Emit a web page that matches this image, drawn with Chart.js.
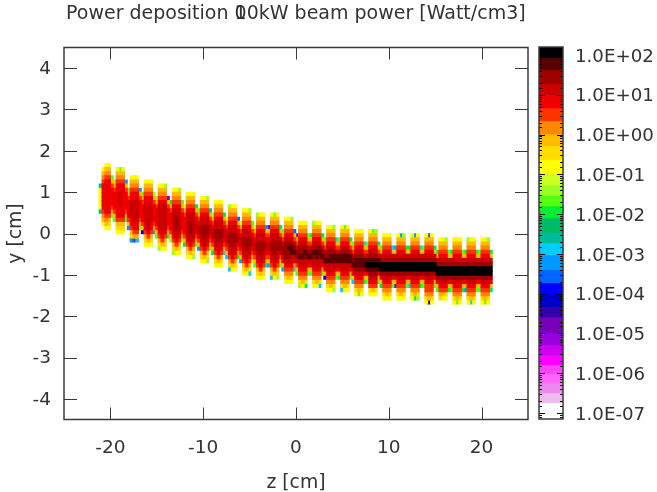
<!DOCTYPE html>
<html>
<head>
<meta charset="utf-8">
<script src="https://cdn.jsdelivr.net/npm/chart.js@4"></script>
<style>
    body { margin: 0; background: #fff; }
    canvas { position: absolute; left: 0; top: 0; filter: blur(0.35px); }
    #title { position: absolute; left: 66px; top: 1px; font: 19px "DejaVu Sans"; color: #333; white-space: pre; filter: blur(0.3px); }
    #title span { margin-right: -0.636em; }
</style>
</head>
<body>
<div style="position:relative;width:657px;height:492px">
    <canvas id="power-map" width="657" height="492"></canvas>
    <canvas id="power-bar" width="657" height="492"></canvas>
    <div id="title">Power deposition <span>1</span>00kW beam power [Watt/cm3]</div>
</div>
<script>
const zTicks = [-20, -10, 0, 10, 20];
const yTicks = [-4, -3, -2, -1, 0, 1, 2, 3, 4];
const barLabels = ['1.0E-07', '1.0E-06', '1.0E-05', '1.0E-04', '1.0E-03', '1.0E-02', '1.0E-01', '1.0E+00', '1.0E+01', '1.0E+02'];

// colour bands, top of the bar first; one letter per band in columnLevels
const levelCodes = 'abcdefghijklmnopqrstuvwxyzABCDE';
const bandColours = ['#000000', '#5a0000', '#a00000', '#cc0000', '#ee0000', '#ff3300', '#ff8800', '#ffbb00',
    '#ffdd00', '#ffff00', '#ccff22', '#99ff22', '#55ff11', '#00ee33', '#00bb66', '#00bb99',
    '#00ccff', '#0099ff', '#0066ff', '#0000ff', '#0000cc', '#3300aa', '#7700bb', '#9900dd',
    '#cc00ee', '#ff00ff', '#ff44ff', '#ff66ff', '#ee88ee', '#eebbee', '#ffffff'];
const bandEdges = [158, 84, 42, 18.7, 9.9, 4.66, 2.2, 1.03, 0.52, 0.23, 0.102, 0.054, 0.029, 0.016, 0.008, 0.0034,
    0.0019, 9.4e-4, 4.0e-4, 1.87e-4, 9.9e-5, 4.7e-5, 2.6e-5, 1.03e-5, 5.2e-6, 2.9e-6, 1.63e-6, 1.02e-6,
    5.7e-7, 3.2e-7, 1.8e-7, 7.1e-8];

// the beam shows 28 lobes, each 5 cells wide
const cellWidth = 0.3025;
const cellHeight = 0.1;
const lobeCentres = [-20.45, -18.93, -17.42, -15.91, -14.40, -12.88, -11.37, -9.86, -8.35, -6.83,
    -5.32, -3.81, -2.30, -0.78, 0.73, 2.24, 3.75, 5.27, 6.78, 8.29,
    9.80, 11.32, 12.83, 14.34, 15.85, 17.37, 18.88, 20.39];

// top edge (y in cm) of each cell column, 5 per lobe
const columnTops = [
    1.2, 1.6, 1.7, 1.7, 1.4,
    1.3, 1.6, 1.6, 1.6, 1.3,
    1.1, 1.4, 1.4, 1.4, 1.1,
    1.0, 1.3, 1.3, 1.3, 1.0,
    0.9, 1.2, 1.2, 1.2, 0.9,
    0.8, 1.1, 1.1, 1.1, 0.8,
    0.7, 1.0, 1.0, 1.0, 0.7,
    0.6, 0.9, 0.9, 0.9, 0.6,
    0.5, 0.8, 0.8, 0.8, 0.5,
    0.4, 0.7, 0.7, 0.7, 0.4,
    0.3, 0.6, 0.6, 0.6, 0.3,
    0.2, 0.5, 0.5, 0.5, 0.2,
    0.2, 0.5, 0.5, 0.5, 0.2,
    0.1, 0.4, 0.4, 0.4, 0.1,
    0.0, 0.3, 0.3, 0.3, 0.0,
    0.0, 0.3, 0.3, 0.3, 0.0,
    -0.1, 0.2, 0.2, 0.2, -0.1,
    -0.1, 0.2, 0.2, 0.2, -0.1,
    -0.2, 0.1, 0.1, 0.1, -0.2,
    -0.2, 0.1, 0.1, 0.1, -0.2,
    -0.3, 0.0, 0.0, 0.0, -0.3,
    -0.3, 0.0, 0.0, 0.0, -0.3,
    -0.3, 0.0, 0.0, 0.0, -0.3,
    -0.3, 0.0, 0.0, 0.0, -0.3,
    -0.4, -0.1, -0.1, -0.1, -0.4,
    -0.4, -0.1, -0.1, -0.1, -0.4,
    -0.4, -0.1, -0.1, -0.1, -0.4,
    -0.4, -0.1, -0.1, -0.1, -0.4,
];

// band letter of each cell, read downward from columnTops
const columnLevels = [
    'pjjjjjp', 'jhgfeeeeeefghj', 'jhgfeeeeeeeefghj', 'jhgfeeeeeeeefhij', 'mhfeeeefhm',
    'lhfeeeefhm', 'jhgfeeeeeeeefhij', 'mhgfeedddeeefhij', 'jhgfeeeeeeeefhij', 'rhfeeeefhm',
    'mhfeeeefhr', 'jhgfeeddddeefhir', 'jhgfeedddddeefhx', 'jhgfeedddddeefhq', 'rhfeeeefhm',
    'mhfeeeefhu', 'jhgfeeddddeefhij', 'jhgfeeddddddefhj', 'jhgfeeddddeefhij', 'lhfeeeefhr',
    'lhfeeeefhm', 'jhgfeddddddefhil', 'jhgfedddddddefhj', 'lhgfeddddddefhij', 'whfeeeefhn',
    'nhfeeeefhl', 'jhgfeddddddefhil', 'jhgfeddcccddefhj', 'lhgfeddddddefhij', 'mhfeeeefhk',
    'khfeeeefhn', 'jhgfeddddddefhij', 'jhgfeddcccddefhj', 'jhgfeddddddefhil', 'nhfeddefhm',
    'mhfeddefhr', 'jhgfeddccddefhij', 'jhgfeddcccddefhj', 'lhgfeddccddefhil', 'phfeddefhm',
    'lhfeddefhn', 'jhgfeddccddefhij', 'jhgfeddcccddefhj', 'jhgfeddccddefhij', 'nhfeddefhq',
    'jhfeddefhq', 'lhgfeddccddefhiq', 'jhgfeddcccddefhj', 'jhgfeddccddefhij', 'shfeddefhn',
    'khfeddefhr', 'jhgfeddccddefhij', 'jhgfeddcccddefhj', 'lhgfeddccddefhiq', 'mhfeddefhk',
    'khfeddefhm', 'lhgfeddccddefhij', 'jhgfeddcccddefhj', 'jhgfeddccddefhij', 'rhfeddefhq',
    'whfeddefhp', 'jhgfeddccddefhiq', 'mhgfeddcccddefhj', 'jhgfeddccddefhil', 'nhfdccdfhm',
    'mhfdccdehr', 'jhgfedccccdefgij', 'jhgfedcbccdefghj', 'lhgfedcbbddefgij', 'shfdcbdehq',
    'whfdccdfhm', 'jhgfedccbddefgil', 'jhgfedccbddefghj', 'jhgfedcbcddefgin', 'mhfdcbdehm',
    'nhfdcbdehm', 'lhgfedcbcddefgij', 'jhgfedcbbddefghj', 'jhgfedcbcddefgiq', 'nhfdcbdehm',
    'mhfdcbdehu', 'jhgfedccbddefgij', 'jhgfedcbbddefghj', 'lhgfedcbbddefgil', 'qhfdbbdehm',
    'mhfdbbdehn', 'jhgfedcbbddefgiq', 'mhgfedcbbddefghj', 'jhgfedcbbddefgij', 'nhfdbbdehm',
    'mhfdcbdehq', 'jhgfedcbbcdefgij', 'jhgfedcbbcdefghm', 'jhgfedcbbcdefgij', 'qhfdbbcehn',
    'mhfdbabehm', 'jhgfedcbabcdefij', 'mhgfedcbabcdefhj', 'lhgfedcbabcdefij', 'nhfdbabehm',
    'mhdcaacehn', 'jhgfedcaacdefgij', 'jhgfedcaacdefghj', 'jhgfedcaacdefgij', 'qhdcaacehm',
    'rhdcaacehw', 'jhgfedcaacdefgij', 'rhgfedcaacdefghj', 'lhgfedcaacdefgij', 'nhdcaacehm',
    'nhdcaacehq', 'jhgfedcaacdefgij', 'rhgfedcaacdefghn', 'jhgfedcaacdefgil', 'qhdcaacehn',
    'mhdcaacehm', 'jhgfedcaacdeffgij', 'shgfedcaacdeffghv', 'jhgfedcaacdeffgij', 'nhdcaacehm',
    'nhdcaacehm', 'jhgfedcaacdefhi', 'jhgfedcaacdefhj', 'lhgfedcaacdefij', 'mhdcaacehn',
    'nhdcaacehm', 'jhgfedcaacdefgij', 'jhgfedcaacdefghm', 'jhgfedcaacdefgij', 'mhdcaacehn',
    'nhdcaacehr', 'lhgfedcaacdefgij', 'jhgfedcaacdefghq', 'jhgfedcaacdefgij', 'nhdcaacehm',
    'mhdcaacehm', 'jhgfedcaacdefgij', 'jhgfedcaacdefghm', 'lhgfedcaacdefgij', 'nhdcaacehn',
];

const frameColour = '#3a3a3a';
const textColour = '#333';
const fontFamily = '"DejaVu Sans"';

// one dataset per colour band, one floating bar per cell
function buildCellDatasets() {
    const cells = levelCodes.split('').map(() => []);
    columnLevels.forEach((levels, c) => {
        const z = lobeCentres[Math.floor(c / 5)] + (c % 5 - 2) * cellWidth;
        levels.split('').forEach((code, r) => {
            const top = columnTops[c] - r * cellHeight;
            cells[levelCodes.indexOf(code)].push({ x: z, y: [top - cellHeight - 0.012, top] });
        });
    });
    return cells.map((data, i) => ({
        data: data,
        backgroundColor: bandColours[i],
        barThickness: 3.1,
        grouped: false,
        borderWidth: 0,
    })).filter(d => d.data.length > 0);
}

function setTicks(values) {
    return scale => { scale.ticks = values.map(v => ({ value: v })); };
}

// gnuplot style ticks: inside the frame, on all four sides
const mapFrame = {
    id: 'mapFrame',
    afterDatasetsDraw(chart) {
        const { ctx, chartArea: a, scales: { x, y } } = chart;
        ctx.save();
        ctx.strokeStyle = frameColour;
        ctx.lineWidth = 1;
        ctx.beginPath();
        zTicks.forEach(v => {
            const px = Math.round(x.getPixelForValue(v)) + 0.5;
            ctx.moveTo(px, a.top); ctx.lineTo(px, a.top + 12);
            ctx.moveTo(px, a.bottom); ctx.lineTo(px, a.bottom - 12);
        });
        yTicks.forEach(v => {
            const py = Math.round(y.getPixelForValue(v)) + 0.5;
            ctx.moveTo(a.left, py); ctx.lineTo(a.left + 13, py);
            ctx.moveTo(a.right, py); ctx.lineTo(a.right - 13, py);
        });
        ctx.stroke();
        ctx.lineWidth = 1.5;
        ctx.strokeRect(a.left, a.top, a.right - a.left, a.bottom - a.top);
        ctx.restore();
    },
};

const barFrame = {
    id: 'barFrame',
    afterDatasetsDraw(chart) {
        const { ctx, chartArea: a, scales: { y } } = chart;
        ctx.save();
        ctx.strokeStyle = '#000';
        ctx.lineWidth = 1;
        ctx.beginPath();
        y.ticks.forEach(t => {
            if (t.value <= y.min || t.value >= y.max) return;
            const len = isDecade(t.value) ? 6 : 3;
            const py = Math.round(y.getPixelForValue(t.value)) + 0.5;
            ctx.moveTo(a.left, py); ctx.lineTo(a.left + len, py);
            ctx.moveTo(a.right, py); ctx.lineTo(a.right - len, py);
        });
        ctx.stroke();
        ctx.strokeStyle = frameColour;
        ctx.lineWidth = 1.5;
        ctx.strokeRect(a.left, a.top, a.right - a.left, a.bottom - a.top);
        ctx.restore();
    },
};

function isDecade(v) {
    const e = Math.log10(v);
    return Math.abs(e - Math.round(e)) < 1e-6;
}

new Chart(document.getElementById('power-map'), {
    type: 'bar',
    data: { datasets: buildCellDatasets() },
    options: {
        responsive: false,
        animation: false,
        layout: { padding: { top: 47.5, right: 129, left: 0, bottom: 0 } },
        plugins: { legend: { display: false }, tooltip: { enabled: false } },
        scales: {
            x: {
                type: 'linear',
                offset: false,
                min: -25,
                max: 25,
                afterBuildTicks: setTicks(zTicks),
                afterFit: s => { s.height = 72.5; },
                grid: { display: false },
                border: { display: false },
                ticks: { color: textColour, font: { family: fontFamily, size: 18.5 }, padding: 10, maxRotation: 0 },
                title: { display: true, text: 'z [cm]', color: textColour, font: { family: fontFamily, size: 18.8 }, padding: { bottom: -2, top: 0 } },
            },
            y: {
                type: 'linear',
                min: -4.5,
                max: 4.5,
                afterBuildTicks: setTicks(yTicks),
                afterFit: s => { s.width = 64; },
                grid: { display: false },
                border: { display: false },
                ticks: { color: textColour, font: { family: fontFamily, size: 18.5 }, padding: 5, labelOffset: 1 },
                title: { display: true, text: 'y [cm]', color: textColour, font: { family: fontFamily, size: 18.8 }, padding: { top: 5, bottom: 0 } },
            },
        },
    },
    plugins: [mapFrame],
});

new Chart(document.getElementById('power-bar'), {
    type: 'bar',
    data: {
        labels: ['power'],
        datasets: bandColours.map((colour, i) => ({
            data: [[bandEdges[i + 1], bandEdges[i]]],
            backgroundColor: colour,
            grouped: false,
            barPercentage: 1,
            categoryPercentage: 1,
            borderWidth: 0,
        })),
    },
    options: {
        responsive: false,
        animation: false,
        layout: { padding: { top: 47, left: 539, bottom: 73, right: 0 } },
        plugins: { legend: { display: false }, tooltip: { enabled: false } },
        scales: {
            x: { display: false },
            y: {
                type: 'logarithmic',
                position: 'right',
                min: 7.1e-8,
                max: 158,
                afterFit: s => { s.width = 94; },
                grid: { display: false },
                border: { display: false },
                ticks: {
                    color: textColour,
                    font: { family: fontFamily, size: 18.2 },
                    padding: 4,
                    labelOffset: 2,
                    autoSkip: false,
                    callback: v => isDecade(v) ? barLabels[Math.round(Math.log10(v)) + 7] : '',
                },
            },
        },
    },
    plugins: [barFrame],
});
</script>
</body>
</html>
